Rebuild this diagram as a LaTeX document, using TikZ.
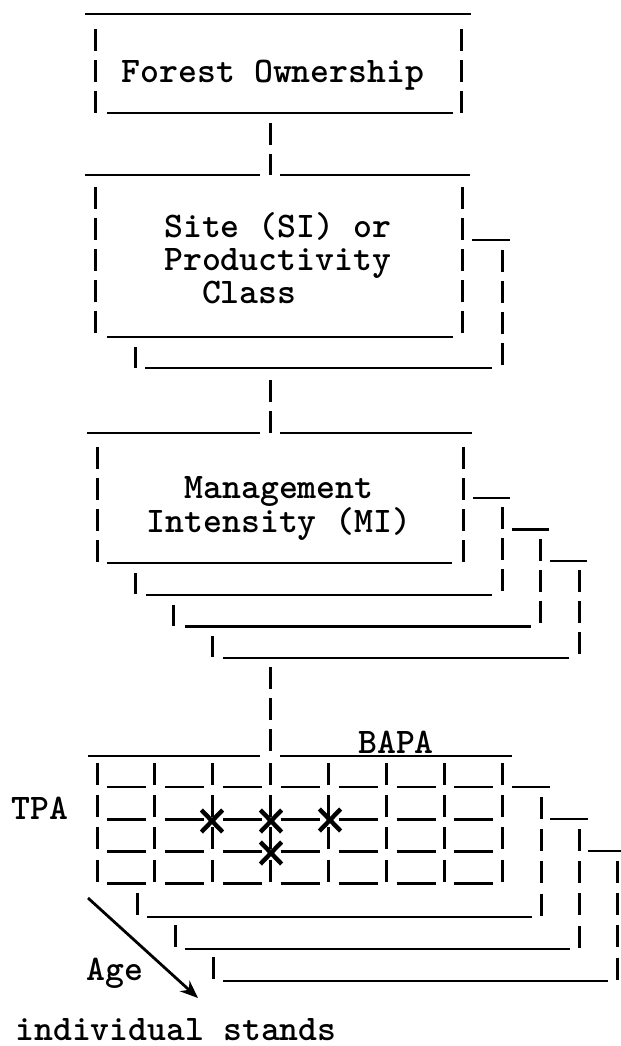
\documentclass[tikz,border=0pt]{standalone}
\usepackage{fontspec}
\usetikzlibrary{arrows.meta,shapes.misc}

\tikzset{
    uline/.style={line width=0.65mm},
    tbar/.style={line width=0.75mm, dash pattern=on 5.5mm off 2.25mm},
    gbar/.style={line width=0.75mm, dash pattern=on 5.5mm off 2.55mm},
    txt/.style={font=\ttfamily\bfseries\fontsize{25.6}{23.8}\selectfont, inner sep=0pt},
    pick/.style={cross out, draw, line width=1.1mm, minimum width=4.2mm, minimum height=4.4mm, inner sep=0pt},
}

\begin{document}
\begin{tikzpicture}[x=0.25mm,y=-0.25mm]
    \useasboundingbox (0,0) rectangle (620,1046);

    % Forest ownership
    \node[txt, anchor=base] (own) at (273,83) {Forest Ownership};
    \draw[uline] (85,14) -- (471,14);
    \draw[uline] (107,113) -- (453,113);
    \draw[tbar] (95,29) -- (95,113);
    \draw[tbar] (461,29) -- (461,113);
    \coordinate (own-s) at (270,123);
    \coordinate (site-n) at (270,175);
    \draw[tbar] (own-s) -- (site-n);

    % Site / productivity class (base = last line)
    \node[txt, anchor=base west, align=left] (site) at (164,304) {Site (SI) or\\Productivity\\\hphantom{Pr}Class};
    \draw[uline] (85,175) -- (260,175);
    \draw[uline] (280,175) -- (470,175);
    \draw[tbar] (95,187) -- (95,337);
    \draw[tbar] (462,187) -- (462,337);
    \draw[uline] (107,337) -- (453,337);
    \draw[uline] (472,240) -- (510,240); % second layer
    \draw[tbar] (502,250) -- (502,368);
    \draw[tbar] (135,347) -- (135,368);
    \draw[uline] (145,368) -- (492,368);
    \coordinate (site-s) at (270,380);
    \coordinate (mi-n) at (270,433);
    \draw[tbar] (site-s) -- (mi-n);

    % Management intensity
    \node[txt, anchor=base, align=center] (mi) at (279,532) {Management\\Intensity (MI)};
    \draw[uline] (87,433) -- (260,433);
    \draw[uline] (280,433) -- (472,433);
    \draw[tbar] (97,447) -- (97,563);
    \draw[tbar] (463,447) -- (463,563);
    \draw[uline] (107,563) -- (452,563);
    \foreach \k in {0,1,2}{
        \begin{scope}[shift={(38.5*\k,31.5*\k)}]
            \draw[uline] (473,498) -- (510,498);
            \draw[tbar] (502,507) -- (502,595);
            \draw[tbar] (135,573) -- (135,594);
            \draw[uline] (146,595) -- (492,595);
        \end{scope}
    }
    \coordinate (mi-s) at (270,667);
    \coordinate (stands-n) at (270,756);
    \draw[tbar] (mi-s) -- (stands-n);

    % Stand table
    \draw[uline] (88,756) -- (260,756);
    \draw[uline] (280,756) -- (512,756);
    \node[txt, anchor=base] (bapa) at (396,753) {BAPA};
    \node[txt, anchor=base] (tpa) at (40,819) {TPA};
    \foreach \i in {0,...,7}
        \draw[gbar] (97+57.9*\i,763) -- ++(0,122);
    \foreach \i in {0,...,6}
        \foreach \j in {0,...,3}
            \draw[uline] (107+57.9*\i,787+32.2*\j) -- ++(39,0);
    \foreach \k in {0,1,2}{
        \begin{scope}[shift={(38*\k,32*\k)}]
            \draw[uline] (512,787) -- (550,787);
            \draw[gbar] (541,797) -- (541,916);
            \draw[tbar] (137,893) -- (137,915);
            \draw[uline] (147,917) -- (532,917);
        \end{scope}
    }
    \node[pick] (p1) at (212,821) {};
    \node[pick] (p2) at (271,821) {};
    \node[pick] (p3) at (330,820) {};
    \node[pick] (p4) at (271,853) {};

    % Age axis
    \coordinate (age-a) at (88,898);
    \coordinate (age-b) at (198,998);
    \draw[line width=0.7mm, -{Stealth[length=4.5mm,width=3.6mm]}] (age-a) -- (age-b);
    \node[txt, anchor=base] (age) at (115,980) {Age};
    \node[txt, anchor=base] (stands) at (176,1040) {individual stands};
\end{tikzpicture}
\end{document}
